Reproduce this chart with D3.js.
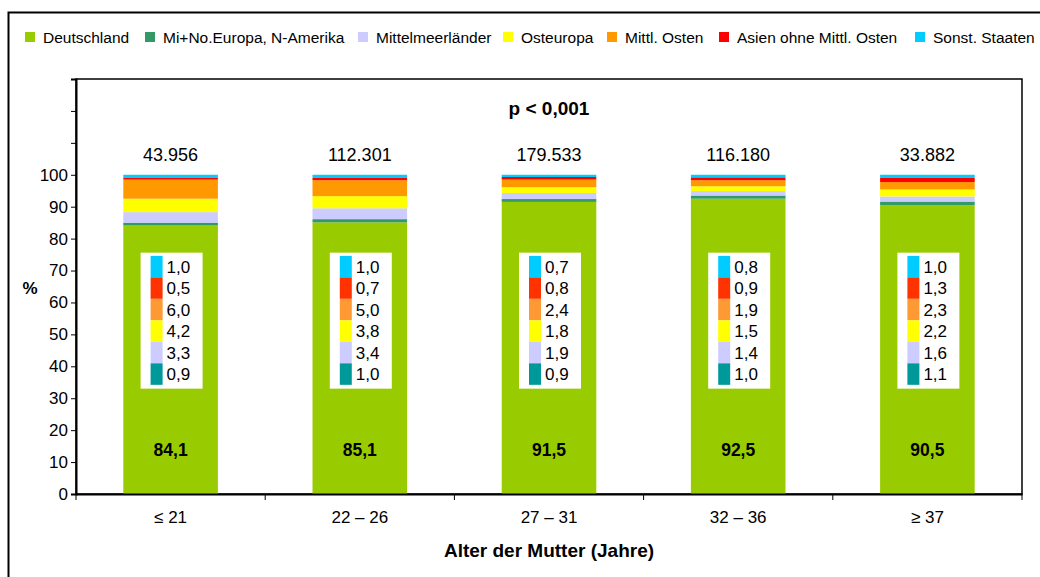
<!DOCTYPE html>
<html>
<head>
<meta charset="utf-8">
<script src="https://cdn.jsdelivr.net/npm/d3@7"></script>
<style>
  body { margin: 0; background: #fff; }
  text { font-family: "Liberation Sans", Arial, sans-serif; fill: #000; }
</style>
</head>
<body>
<div id="chart-area"></div>
<script>
// daten
const categories = ["\u2264 21", "22 \u2013 26", "27 \u2013 31", "32 \u2013 36", "\u2265 37"]
const counts = ["43.956", "112.301", "179.533", "116.180", "33.882"]
const seriesNames = ["Deutschland", "Mi+No.Europa, N-Amerika", "Mittelmeerländer", "Osteuropa", "Mittl. Osten", "Asien ohne Mittl. Osten", "Sonst. Staaten"]
const deutschland = [84.1, 85.1, 91.5, 92.5, 90.5]
const miNoEuropa = [0.9, 1.0, 0.9, 1.0, 1.1]
const mittelmeer = [3.3, 3.4, 1.9, 1.4, 1.6]
const osteuropa = [4.2, 3.8, 1.8, 1.5, 2.2]
const mittlOsten = [6.0, 5.0, 2.4, 1.9, 2.3]
const asien = [0.5, 0.7, 0.8, 0.9, 1.3]
const sonstige = [1.0, 1.0, 0.7, 0.8, 1.0]
const yTicks = [0, 10, 20, 30, 40, 50, 60, 70, 80, 90, 100, 110, 120, 130]

const barColors = ["#99cc00", "#339966", "#ccccff", "#ffff00", "#ff9900", "#ff0000", "#00ccff"]
// die kleinen legenden in den balken haben etwas andere farben
const boxColors = ["#009999", "#ccccff", "#ffff00", "#ff9933", "#ff3300", "#00ccff"]

const allSeries = [deutschland, miNoEuropa, mittelmeer, osteuropa, mittlOsten, asien, sonstige]
const data = categories.map((c, i) => {
  const row = { cat: c, n: counts[i] }
  seriesNames.forEach((s, j) => { row[s] = allSeries[j][i] })
  return row
})

const W = 1040, H = 577
const margin = { left: 76, right: 18, top: 79, bottom: 83 }
const width = W - margin.left - margin.right
const height = H - margin.top - margin.bottom

const svg = d3.select("#chart-area").append("svg")
  .attr("width", W)
  .attr("height", H)

// rahmen aussen
svg.append("path")
  .attr("d", `M8.5,${H + 2} V12.5 H${W + 2}`)
  .attr("fill", "none")
  .attr("stroke", "#000")
  .attr("stroke-width", 2)

// legende oben
const legendX = [25, 145, 358, 503, 607, 719, 915]
const legend = svg.append("g")
legend.selectAll("rect").data(seriesNames).enter().append("rect")
  .attr("x", (d, i) => legendX[i])
  .attr("y", 32)
  .attr("width", 10)
  .attr("height", 10)
  .attr("fill", (d, i) => barColors[i])
legend.selectAll("text").data(seriesNames).enter().append("text")
  .attr("x", (d, i) => legendX[i] + 18)
  .attr("y", 42.5)
  .attr("font-size", "15.5px")
  .text(d => d)

const g = svg.append("g")
  .attr("transform", `translate(${margin.left}, ${margin.top})`)

const x = d3.scaleBand()
  .domain(categories)
  .range([0, width])
  .padding(0)

const y = d3.scaleLinear()
  .domain([0, 130])
  .range([height, 0])

// plotbereich rahmen
g.append("rect")
  .attr("x", 0).attr("y", 0)
  .attr("width", width).attr("height", height)
  .attr("fill", "none")
  .attr("stroke", "#000")
  .attr("stroke-width", 1.5)

const stack = d3.stack().keys(seriesNames)
const stacked = stack(data)
const barW = x.bandwidth() * 0.5

g.selectAll("g.layer").data(stacked).enter().append("g")
  .attr("class", "layer")
  .attr("fill", (d, i) => barColors[i])
  .selectAll("rect").data(d => d).enter().append("rect")
    .attr("x", d => x(d.data.cat) + (x.bandwidth() - barW) / 2)
    .attr("y", d => y(d[1]))
    .attr("width", barW)
    .attr("height", d => y(d[0]) - y(d[1]))

// achse y
const yAxis = d3.axisLeft(y)
  .tickValues(yTicks)
  .tickSize(5)
  .tickFormat(d => d <= 100 ? d : "")
g.append("g")
  .attr("class", "y axis")
  .call(yAxis)
  .call(a => a.select(".domain").attr("stroke-width", 2))
  .selectAll("text")
    .attr("font-size", "17px")
    .attr("x", -8)

// achse x
const xAxis = d3.axisBottom(x).tickSize(0).tickPadding(19)
const xg = g.append("g")
  .attr("class", "x axis")
  .attr("transform", `translate(0, ${height})`)
  .call(xAxis)
xg.select(".domain").attr("stroke-width", 2)
xg.selectAll("text").attr("font-size", "17px").attr("dy", "0.6em")
// trennstriche zwischen kategorien
xg.selectAll("line.sep").data(d3.range(categories.length + 1)).enter().append("line")
  .attr("class", "sep")
  .attr("x1", i => i * x.step()).attr("x2", i => i * x.step())
  .attr("y1", 0).attr("y2", 6)
  .attr("stroke", "#000")

// fallzahlen über den balken
g.selectAll("text.n").data(data).enter().append("text")
  .attr("class", "n")
  .attr("x", d => x(d.cat) + x.bandwidth() / 2)
  .attr("y", y(100) - 14)
  .attr("text-anchor", "middle")
  .attr("font-size", "18px")
  .text(d => d.n)

// p-wert
g.append("text")
  .attr("x", width / 2)
  .attr("y", y(130) + 36)
  .attr("text-anchor", "middle")
  .attr("font-size", "19px")
  .attr("font-weight", "bold")
  .text("p < 0,001")

// deutschland-wert im balken
g.selectAll("text.de").data(data).enter().append("text")
  .attr("class", "de")
  .attr("x", d => x(d.cat) + x.bandwidth() / 2)
  .attr("y", y(12.0))
  .attr("text-anchor", "middle")
  .attr("font-size", "17.5px")
  .attr("font-weight", "bold")
  .text(d => d3.format(".1f")(d.Deutschland).replace(".", ","))

// kleine legenden in den balken (oben: sonstige, unten: mi+no)
const boxKeys = seriesNames.slice(1).reverse()
const boxColorsRev = boxColors.slice().reverse()
const rowY = d3.scaleBand()
  .domain(boxKeys)
  .range([y(74.6), y(34.2)])
  .padding(0)

const boxes = g.selectAll("g.box").data(data).enter().append("g")
  .attr("class", "box")
  .attr("transform", d => `translate(${x(d.cat) + x.bandwidth() / 2}, 0)`)
boxes.append("rect")
  .attr("x", -30)
  .attr("y", y(75.6))
  .attr("width", 62)
  .attr("height", y(33.0) - y(75.6))
  .attr("fill", "#fff")
boxes.selectAll("rect.sw").data(boxKeys).enter().append("rect")
  .attr("class", "sw")
  .attr("x", -20)
  .attr("y", k => rowY(k))
  .attr("width", 12)
  .attr("height", rowY.bandwidth())
  .attr("fill", (k, i) => boxColorsRev[i])
boxes.selectAll("text").data(d => boxKeys.map(k => d[k])).enter().append("text")
  .attr("x", -4)
  .attr("y", (v, i) => rowY(boxKeys[i]) + rowY.bandwidth() / 2 + 6)
  .attr("font-size", "17px")
  .text(v => d3.format(".1f")(v).replace(".", ","))

// achsentitel
svg.append("text")
  .attr("x", 30)
  .attr("y", 294)
  .attr("text-anchor", "middle")
  .attr("font-size", "17px")
  .attr("font-weight", "bold")
  .text("%")

svg.append("text")
  .attr("x", margin.left + width / 2)
  .attr("y", 557)
  .attr("text-anchor", "middle")
  .attr("font-size", "19px")
  .attr("font-weight", "bold")
  .text("Alter der Mutter (Jahre)")
</script>
</body>
</html>
